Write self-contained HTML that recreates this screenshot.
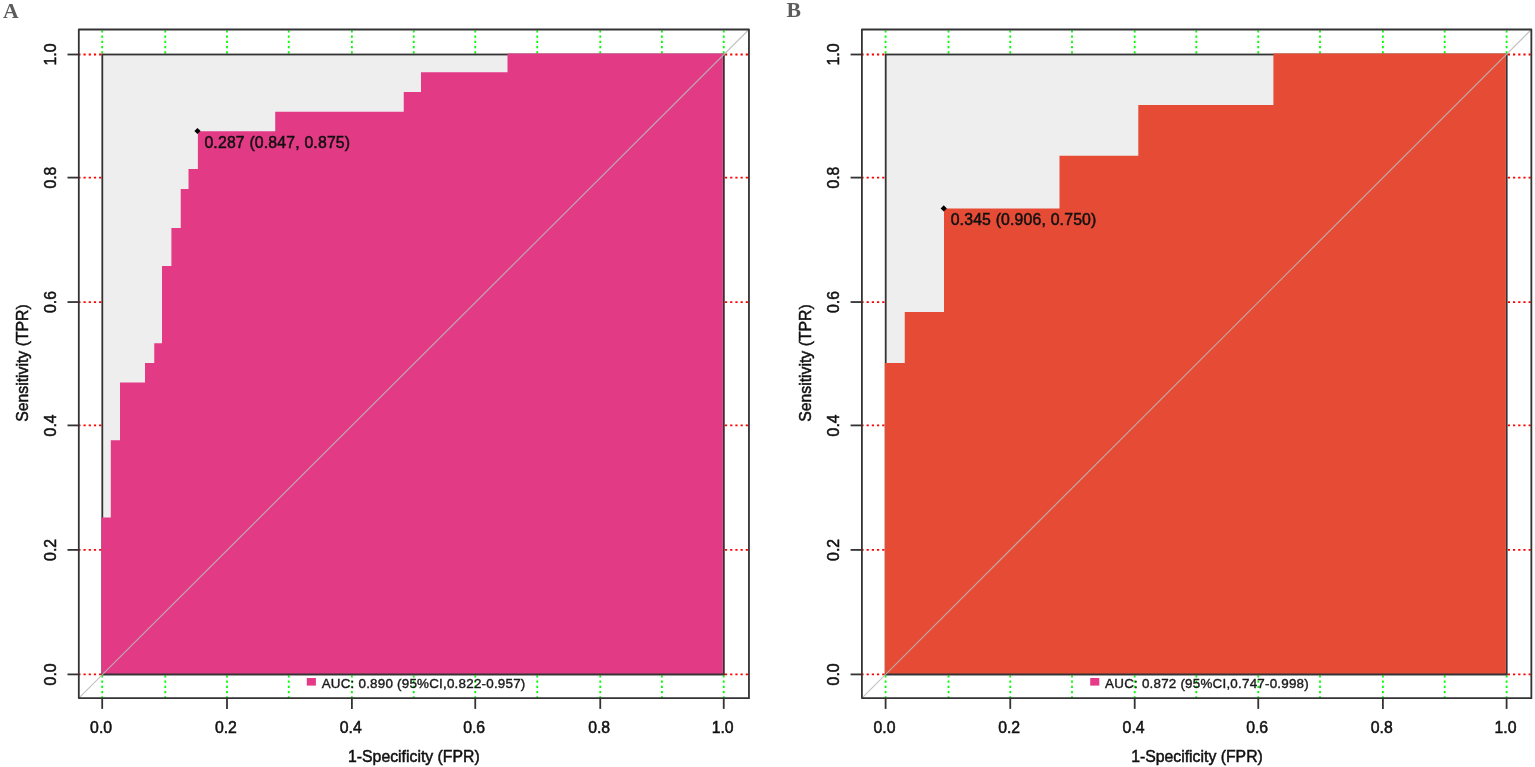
<!DOCTYPE html>
<html lang="en">
<head>
<meta charset="utf-8">
<title>ROC curves</title>
<style>
html,body{margin:0;padding:0;background:#fff;}
body{width:1535px;height:767px;overflow:hidden;}
svg{display:block;}
.t{font-family:"Liberation Sans", sans-serif;font-size:15.8px;fill:#111;stroke:#111;stroke-width:0.5px;}
.lg{font-family:"Liberation Sans", sans-serif;font-size:13.4px;fill:#1a1a1a;stroke:#1a1a1a;stroke-width:0.4px;}
.ab{font-family:"Liberation Serif", serif;font-size:21.7px;font-weight:bold;fill:#5c5c5c;}
.ln{stroke:#333;stroke-width:1.8;fill:none;}
.bx{stroke:#333;stroke-width:1.8;fill:none;}
.gv{stroke:#00ff00;stroke-width:1.8;stroke-dasharray:2.2 3.0;fill:none;}
.gh{stroke:#ff0000;stroke-width:1.8;stroke-dasharray:2.2 3.0;fill:none;}
</style>
</head>
<body>
<svg width="1535" height="767" viewBox="0 0 1535 767">
<rect width="1535" height="767" fill="#ffffff"/>
<g>
<line x1="102.20" y1="698.1" x2="102.20" y2="674.40" class="gv" stroke-dashoffset="0.3"/>
<line x1="102.20" y1="54.50" x2="102.20" y2="29.5" class="gv" stroke-dashoffset="4.1"/>
<line x1="165.30" y1="698.1" x2="165.30" y2="674.40" class="gv" stroke-dashoffset="0.3"/>
<line x1="165.30" y1="54.50" x2="165.30" y2="29.5" class="gv" stroke-dashoffset="4.1"/>
<line x1="227.00" y1="698.1" x2="227.00" y2="674.40" class="gv" stroke-dashoffset="0.3"/>
<line x1="227.00" y1="54.50" x2="227.00" y2="29.5" class="gv" stroke-dashoffset="4.1"/>
<line x1="288.75" y1="698.1" x2="288.75" y2="674.40" class="gv" stroke-dashoffset="0.3"/>
<line x1="288.75" y1="54.50" x2="288.75" y2="29.5" class="gv" stroke-dashoffset="4.1"/>
<line x1="351.90" y1="698.1" x2="351.90" y2="674.40" class="gv" stroke-dashoffset="0.3"/>
<line x1="351.90" y1="54.50" x2="351.90" y2="29.5" class="gv" stroke-dashoffset="4.1"/>
<line x1="413.75" y1="698.1" x2="413.75" y2="674.40" class="gv" stroke-dashoffset="0.3"/>
<line x1="413.75" y1="54.50" x2="413.75" y2="29.5" class="gv" stroke-dashoffset="4.1"/>
<line x1="475.25" y1="698.1" x2="475.25" y2="674.40" class="gv" stroke-dashoffset="0.3"/>
<line x1="475.25" y1="54.50" x2="475.25" y2="29.5" class="gv" stroke-dashoffset="4.1"/>
<line x1="537.25" y1="698.1" x2="537.25" y2="674.40" class="gv" stroke-dashoffset="0.3"/>
<line x1="537.25" y1="54.50" x2="537.25" y2="29.5" class="gv" stroke-dashoffset="4.1"/>
<line x1="600.25" y1="698.1" x2="600.25" y2="674.40" class="gv" stroke-dashoffset="0.3"/>
<line x1="600.25" y1="54.50" x2="600.25" y2="29.5" class="gv" stroke-dashoffset="4.1"/>
<line x1="661.90" y1="698.1" x2="661.90" y2="674.40" class="gv" stroke-dashoffset="0.3"/>
<line x1="661.90" y1="54.50" x2="661.90" y2="29.5" class="gv" stroke-dashoffset="4.1"/>
<line x1="723.75" y1="698.1" x2="723.75" y2="674.40" class="gv" stroke-dashoffset="0.3"/>
<line x1="723.75" y1="54.50" x2="723.75" y2="29.5" class="gv" stroke-dashoffset="4.1"/>
<line x1="78.8" y1="674.40" x2="102.30" y2="674.40" class="gh" stroke-dashoffset="0.5"/>
<line x1="723.85" y1="674.40" x2="748.95" y2="674.40" class="gh" stroke-dashoffset="4.1"/>
<line x1="78.8" y1="549.90" x2="102.30" y2="549.90" class="gh" stroke-dashoffset="0.5"/>
<line x1="723.85" y1="549.90" x2="748.95" y2="549.90" class="gh" stroke-dashoffset="4.1"/>
<line x1="78.8" y1="425.40" x2="102.30" y2="425.40" class="gh" stroke-dashoffset="0.5"/>
<line x1="723.85" y1="425.40" x2="748.95" y2="425.40" class="gh" stroke-dashoffset="4.1"/>
<line x1="78.8" y1="302.05" x2="102.30" y2="302.05" class="gh" stroke-dashoffset="0.5"/>
<line x1="723.85" y1="302.05" x2="748.95" y2="302.05" class="gh" stroke-dashoffset="4.1"/>
<line x1="78.8" y1="177.60" x2="102.30" y2="177.60" class="gh" stroke-dashoffset="0.5"/>
<line x1="723.85" y1="177.60" x2="748.95" y2="177.60" class="gh" stroke-dashoffset="4.1"/>
<line x1="78.8" y1="54.50" x2="102.30" y2="54.50" class="gh" stroke-dashoffset="0.5"/>
<line x1="723.85" y1="54.50" x2="748.95" y2="54.50" class="gh" stroke-dashoffset="4.1"/>
<rect x="102.30" y="54.50" width="621.55" height="619.90" fill="#eeeeee"/>
<rect x="102.30" y="54.50" width="621.55" height="619.90" class="bx"/>
<polygon points="101.40,674.40 101.40,517.50 110.80,517.50 110.80,440.30 120.00,440.30 120.00,382.50 145.00,382.50 145.00,363.10 154.25,363.10 154.25,343.25 162.00,343.25 162.00,266.00 171.40,266.00 171.40,228.10 180.75,228.10 180.75,189.00 188.50,189.00 188.50,169.00 197.90,169.00 197.90,131.25 275.20,131.25 275.20,111.70 403.75,111.70 403.75,91.90 421.00,91.90 421.00,72.25 507.50,72.25 507.50,53.60 722.90,53.60 722.90,674.40" fill="#e33a86"/>
<line x1="101.40" y1="674.4" x2="724.75" y2="674.4" class="ln"/>
<line x1="78.8" y1="698.1" x2="748.95" y2="29.5" stroke="#b8b8b8" stroke-opacity="0.85" stroke-width="1.2"/>
<path d="M748.95 698.1H78.8V29.5H748.95V698.1" class="bx" stroke-linejoin="round" stroke-linecap="square"/>
<line x1="102.20" y1="698.1" x2="102.20" y2="708.9" class="ln"/>
<text x="101.10" y="733.0" text-anchor="middle" class="t">0.0</text>
<line x1="78.8" y1="674.40" x2="67.5" y2="674.40" class="ln"/>
<text transform="translate(55.70,674.40) rotate(-90)" text-anchor="middle" class="t">0.0</text>
<line x1="227.00" y1="698.1" x2="227.00" y2="708.9" class="ln"/>
<text x="225.90" y="733.0" text-anchor="middle" class="t">0.2</text>
<line x1="78.8" y1="549.90" x2="67.5" y2="549.90" class="ln"/>
<text transform="translate(55.70,549.90) rotate(-90)" text-anchor="middle" class="t">0.2</text>
<line x1="351.90" y1="698.1" x2="351.90" y2="708.9" class="ln"/>
<text x="350.80" y="733.0" text-anchor="middle" class="t">0.4</text>
<line x1="78.8" y1="425.40" x2="67.5" y2="425.40" class="ln"/>
<text transform="translate(55.70,425.40) rotate(-90)" text-anchor="middle" class="t">0.4</text>
<line x1="475.25" y1="698.1" x2="475.25" y2="708.9" class="ln"/>
<text x="474.15" y="733.0" text-anchor="middle" class="t">0.6</text>
<line x1="78.8" y1="302.05" x2="67.5" y2="302.05" class="ln"/>
<text transform="translate(55.70,302.05) rotate(-90)" text-anchor="middle" class="t">0.6</text>
<line x1="600.25" y1="698.1" x2="600.25" y2="708.9" class="ln"/>
<text x="599.15" y="733.0" text-anchor="middle" class="t">0.8</text>
<line x1="78.8" y1="177.60" x2="67.5" y2="177.60" class="ln"/>
<text transform="translate(55.70,177.60) rotate(-90)" text-anchor="middle" class="t">0.8</text>
<line x1="723.75" y1="698.1" x2="723.75" y2="708.9" class="ln"/>
<text x="722.65" y="733.0" text-anchor="middle" class="t">1.0</text>
<line x1="78.8" y1="54.50" x2="67.5" y2="54.50" class="ln"/>
<text transform="translate(55.70,54.50) rotate(-90)" text-anchor="middle" class="t">1.0</text>
<text x="413.88" y="761.7" text-anchor="middle" class="t">1-Specificity (FPR)</text>
<text transform="translate(27.80,363.05) rotate(-90)" text-anchor="middle" class="t">Sensitivity (TPR)</text>
<polygon points="194.40,131.00 197.50,127.90 200.60,131.00 197.50,134.10" fill="#000"/>
<text x="204.40" y="148.00" class="t" textLength="145.7" lengthAdjust="spacing">0.287 (0.847, 0.875)</text>
<rect x="306.80" y="678" width="9.1" height="7.6" fill="#e63a88"/>
<text x="321.70" y="688.2" class="lg" textLength="203.6" lengthAdjust="spacing">AUC: 0.890 (95%CI,0.822-0.957)</text>
<text x="3.1" y="18.4" class="ab">A</text>
</g>
<g>
<line x1="885.60" y1="698.1" x2="885.60" y2="674.40" class="gv" stroke-dashoffset="0.3"/>
<line x1="885.60" y1="54.50" x2="885.60" y2="29.5" class="gv" stroke-dashoffset="4.1"/>
<line x1="948.50" y1="698.1" x2="948.50" y2="674.40" class="gv" stroke-dashoffset="0.3"/>
<line x1="948.50" y1="54.50" x2="948.50" y2="29.5" class="gv" stroke-dashoffset="4.1"/>
<line x1="1010.25" y1="698.1" x2="1010.25" y2="674.40" class="gv" stroke-dashoffset="0.3"/>
<line x1="1010.25" y1="54.50" x2="1010.25" y2="29.5" class="gv" stroke-dashoffset="4.1"/>
<line x1="1072.00" y1="698.1" x2="1072.00" y2="674.40" class="gv" stroke-dashoffset="0.3"/>
<line x1="1072.00" y1="54.50" x2="1072.00" y2="29.5" class="gv" stroke-dashoffset="4.1"/>
<line x1="1134.70" y1="698.1" x2="1134.70" y2="674.40" class="gv" stroke-dashoffset="0.3"/>
<line x1="1134.70" y1="54.50" x2="1134.70" y2="29.5" class="gv" stroke-dashoffset="4.1"/>
<line x1="1196.30" y1="698.1" x2="1196.30" y2="674.40" class="gv" stroke-dashoffset="0.3"/>
<line x1="1196.30" y1="54.50" x2="1196.30" y2="29.5" class="gv" stroke-dashoffset="4.1"/>
<line x1="1258.25" y1="698.1" x2="1258.25" y2="674.40" class="gv" stroke-dashoffset="0.3"/>
<line x1="1258.25" y1="54.50" x2="1258.25" y2="29.5" class="gv" stroke-dashoffset="4.1"/>
<line x1="1320.00" y1="698.1" x2="1320.00" y2="674.40" class="gv" stroke-dashoffset="0.3"/>
<line x1="1320.00" y1="54.50" x2="1320.00" y2="29.5" class="gv" stroke-dashoffset="4.1"/>
<line x1="1382.90" y1="698.1" x2="1382.90" y2="674.40" class="gv" stroke-dashoffset="0.3"/>
<line x1="1382.90" y1="54.50" x2="1382.90" y2="29.5" class="gv" stroke-dashoffset="4.1"/>
<line x1="1444.70" y1="698.1" x2="1444.70" y2="674.40" class="gv" stroke-dashoffset="0.3"/>
<line x1="1444.70" y1="54.50" x2="1444.70" y2="29.5" class="gv" stroke-dashoffset="4.1"/>
<line x1="1506.60" y1="698.1" x2="1506.60" y2="674.40" class="gv" stroke-dashoffset="0.3"/>
<line x1="1506.60" y1="54.50" x2="1506.60" y2="29.5" class="gv" stroke-dashoffset="4.1"/>
<line x1="861.9" y1="674.40" x2="885.70" y2="674.40" class="gh" stroke-dashoffset="0.5"/>
<line x1="1506.70" y1="674.40" x2="1531.35" y2="674.40" class="gh" stroke-dashoffset="4.1"/>
<line x1="861.9" y1="549.90" x2="885.70" y2="549.90" class="gh" stroke-dashoffset="0.5"/>
<line x1="1506.70" y1="549.90" x2="1531.35" y2="549.90" class="gh" stroke-dashoffset="4.1"/>
<line x1="861.9" y1="425.40" x2="885.70" y2="425.40" class="gh" stroke-dashoffset="0.5"/>
<line x1="1506.70" y1="425.40" x2="1531.35" y2="425.40" class="gh" stroke-dashoffset="4.1"/>
<line x1="861.9" y1="302.05" x2="885.70" y2="302.05" class="gh" stroke-dashoffset="0.5"/>
<line x1="1506.70" y1="302.05" x2="1531.35" y2="302.05" class="gh" stroke-dashoffset="4.1"/>
<line x1="861.9" y1="177.60" x2="885.70" y2="177.60" class="gh" stroke-dashoffset="0.5"/>
<line x1="1506.70" y1="177.60" x2="1531.35" y2="177.60" class="gh" stroke-dashoffset="4.1"/>
<line x1="861.9" y1="54.50" x2="885.70" y2="54.50" class="gh" stroke-dashoffset="0.5"/>
<line x1="1506.70" y1="54.50" x2="1531.35" y2="54.50" class="gh" stroke-dashoffset="4.1"/>
<rect x="885.70" y="54.50" width="621.00" height="619.90" fill="#eeeeee"/>
<rect x="885.70" y="54.50" width="621.00" height="619.90" class="bx"/>
<polygon points="884.80,674.40 884.80,362.90 904.75,362.90 904.75,312.10 944.00,312.10 944.00,208.50 1059.50,208.50 1059.50,155.85 1138.30,155.85 1138.30,105.00 1273.40,105.00 1273.40,53.60 1505.90,53.60 1505.90,674.40" fill="#e64b35"/>
<line x1="884.80" y1="674.4" x2="1507.60" y2="674.4" class="ln"/>
<line x1="861.9" y1="698.1" x2="1531.35" y2="29.5" stroke="#b8b8b8" stroke-opacity="0.85" stroke-width="1.2"/>
<path d="M1531.35 698.1H861.9V29.5H1531.35V698.1" class="bx" stroke-linejoin="round" stroke-linecap="square"/>
<line x1="885.60" y1="698.1" x2="885.60" y2="708.9" class="ln"/>
<text x="884.50" y="733.0" text-anchor="middle" class="t">0.0</text>
<line x1="861.9" y1="674.40" x2="850.6" y2="674.40" class="ln"/>
<text transform="translate(838.80,674.40) rotate(-90)" text-anchor="middle" class="t">0.0</text>
<line x1="1010.25" y1="698.1" x2="1010.25" y2="708.9" class="ln"/>
<text x="1009.15" y="733.0" text-anchor="middle" class="t">0.2</text>
<line x1="861.9" y1="549.90" x2="850.6" y2="549.90" class="ln"/>
<text transform="translate(838.80,549.90) rotate(-90)" text-anchor="middle" class="t">0.2</text>
<line x1="1134.70" y1="698.1" x2="1134.70" y2="708.9" class="ln"/>
<text x="1133.60" y="733.0" text-anchor="middle" class="t">0.4</text>
<line x1="861.9" y1="425.40" x2="850.6" y2="425.40" class="ln"/>
<text transform="translate(838.80,425.40) rotate(-90)" text-anchor="middle" class="t">0.4</text>
<line x1="1258.25" y1="698.1" x2="1258.25" y2="708.9" class="ln"/>
<text x="1257.15" y="733.0" text-anchor="middle" class="t">0.6</text>
<line x1="861.9" y1="302.05" x2="850.6" y2="302.05" class="ln"/>
<text transform="translate(838.80,302.05) rotate(-90)" text-anchor="middle" class="t">0.6</text>
<line x1="1382.90" y1="698.1" x2="1382.90" y2="708.9" class="ln"/>
<text x="1381.80" y="733.0" text-anchor="middle" class="t">0.8</text>
<line x1="861.9" y1="177.60" x2="850.6" y2="177.60" class="ln"/>
<text transform="translate(838.80,177.60) rotate(-90)" text-anchor="middle" class="t">0.8</text>
<line x1="1506.60" y1="698.1" x2="1506.60" y2="708.9" class="ln"/>
<text x="1505.50" y="733.0" text-anchor="middle" class="t">1.0</text>
<line x1="861.9" y1="54.50" x2="850.6" y2="54.50" class="ln"/>
<text transform="translate(838.80,54.50) rotate(-90)" text-anchor="middle" class="t">1.0</text>
<text x="1197.00" y="761.7" text-anchor="middle" class="t">1-Specificity (FPR)</text>
<text transform="translate(810.90,363.05) rotate(-90)" text-anchor="middle" class="t">Sensitivity (TPR)</text>
<polygon points="940.65,208.40 943.75,205.30 946.85,208.40 943.75,211.50" fill="#000"/>
<text x="950.65" y="225.40" class="t" textLength="145.7" lengthAdjust="spacing">0.345 (0.906, 0.750)</text>
<rect x="1090.20" y="678" width="9.1" height="7.6" fill="#e63a88"/>
<text x="1105.10" y="688.2" class="lg" textLength="203.6" lengthAdjust="spacing">AUC: 0.872 (95%CI,0.747-0.998)</text>
<text x="786.6" y="17.2" class="ab">B</text>
</g>
</svg>
</body>
</html>
